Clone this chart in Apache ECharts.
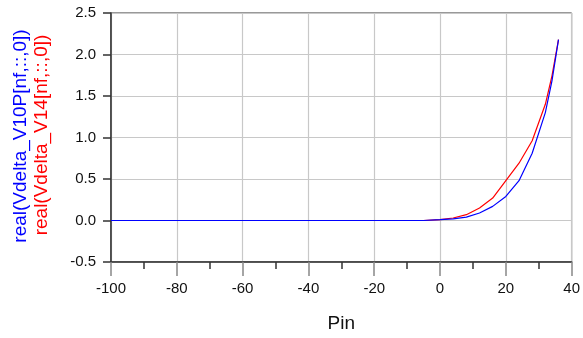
<!DOCTYPE html>
<html>
<head>
<meta charset="utf-8">
<script src="https://cdn.jsdelivr.net/npm/echarts@6/dist/echarts.min.js"></script>
<style>
  html, body { margin: 0; padding: 0; background: #fff; }
  #chart { width: 583px; height: 338px; }
</style>
</head>
<body>
<div id="chart"></div>
<script>
// Swept input power (dBm)
var pin = [-100, -90, -80, -70, -60, -50, -40, -30, -20, -10, -5, 0, 4, 8, 12, 16, 20, 24, 28, 32, 34, 36];
// real(Vdelta_V10P[nf,::,0])
var v10p = [0, 0, 0, 0, 0, 0, 0, 0, 0, 0, 0, 0.01, 0.02, 0.04, 0.09, 0.17, 0.29, 0.48, 0.81, 1.30, 1.68, 2.18];
// real(Vdelta_V14[nf,::,0])
var v14 = [0, 0, 0, 0, 0, 0, 0, 0, 0, 0, 0, 0.01, 0.03, 0.07, 0.15, 0.27, 0.48, 0.69, 0.96, 1.40, 1.74, 2.18];

var xTicks = { min: -100, max: 40, step: 20 };
var yTicks = { min: -0.5, max: 2.5, step: 0.5 };

function pairs(xs, ys) {
  return xs.map(function (x, i) { return [x, ys[i]]; });
}

var chart = echarts.init(document.getElementById('chart'), null, { renderer: 'canvas' });
var font = 'Arial, "Liberation Sans", sans-serif';

chart.setOption({
  animation: false,
  backgroundColor: '#fff',
  grid: {
    left: 111, right: 10, top: 13, bottom: 76,
    show: true, borderColor: '#333', borderWidth: 1, backgroundColor: 'transparent'
  },
  xAxis: {
    type: 'value',
    min: xTicks.min, max: xTicks.max, interval: xTicks.step,
    name: 'Pin',
    nameLocation: 'middle',
    nameGap: 52,
    nameTextStyle: { fontFamily: font, fontSize: 19, color: '#111' },
    axisLine: { onZero: false, lineStyle: { color: '#333', width: 1.5 } },
    axisTick: { show: true, inside: false, length: 14, lineStyle: { color: '#888', width: 1.5 } },
    minorTick: { show: true, splitNumber: 2, length: 7, lineStyle: { color: '#333', width: 1.5 } },
    axisLabel: { fontFamily: font, fontSize: 15, color: '#111', margin: 19 },
    splitLine: { show: true, lineStyle: { color: '#c8c8c8', width: 1.2 } }
  },
  yAxis: {
    type: 'value',
    min: yTicks.min, max: yTicks.max, interval: yTicks.step,
    axisLine: { show: true, onZero: false, lineStyle: { color: '#333', width: 1.5 } },
    axisTick: { show: true, inside: false, length: 8, lineStyle: { color: '#333', width: 1.5 } },
    axisLabel: {
      fontFamily: font, fontSize: 15, color: '#111', margin: 15,
      formatter: function (v) { return v.toFixed(1); }
    },
    splitLine: { show: true, lineStyle: { color: '#c8c8c8', width: 1.2 } }
  },
  graphic: [
    {
      type: 'text', x: 21, y: 136, rotation: Math.PI / 2,
      style: {
        text: 'real(Vdelta_V10P[nf,::,0])', fill: '#0000ff',
        font: '19px ' + font, align: 'center', verticalAlign: 'middle'
      }
    },
    {
      type: 'text', x: 42, y: 135, rotation: Math.PI / 2,
      style: {
        text: 'real(Vdelta_V14[nf,::,0])', fill: '#ff0000',
        font: '19px ' + font, align: 'center', verticalAlign: 'middle'
      }
    }
  ],
  series: [
    {
      type: 'line', data: pairs(pin, v14), showSymbol: false,
      lineStyle: { color: '#ff0000', width: 1.2 }, z: 2
    },
    {
      type: 'line', data: pairs(pin, v10p), showSymbol: false,
      lineStyle: { color: '#0000ff', width: 1.2 }, z: 3
    }
  ]
});
</script>
</body>
</html>
